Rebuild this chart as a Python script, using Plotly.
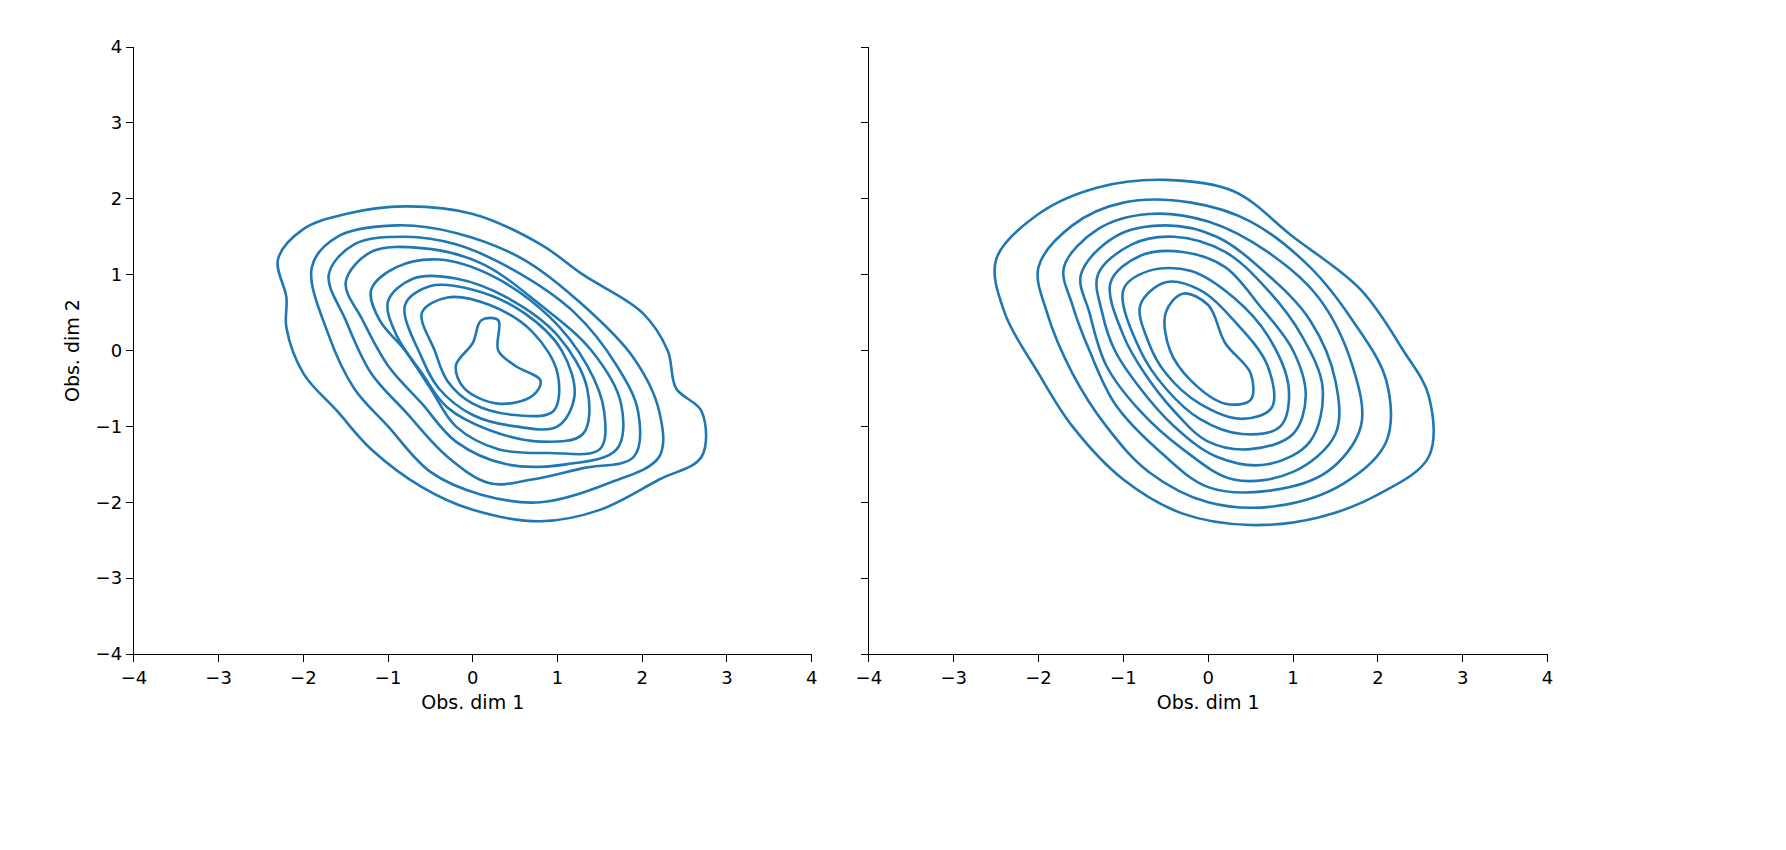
import plotly.graph_objects as go

left_contours = [
 [(-2.3,1.2),(-2.0,1.6),(-1.5,1.8),(-0.8,1.9),(0,1.8),(0.8,1.4),(1.3,1.0),(2.0,0.5),(2.3,0.0),(2.4,-0.5),(2.7,-0.8),(2.7,-1.4),(2.2,-1.7),(1.5,-2.1),(0.8,-2.25),(0,-2.1),(-0.6,-1.8),(-1.2,-1.3),(-1.6,-0.8),(-2.0,-0.3),(-2.2,0.3),(-2.2,0.7)],
 [(-1.9,1.1),(-1.6,1.5),(-0.9,1.65),(-0.2,1.55),(0.6,1.2),(1.3,0.6),(1.9,-0.1),(2.2,-0.8),(2.2,-1.4),(1.6,-1.75),(0.8,-2.0),(0.1,-1.9),(-0.5,-1.6),(-1.0,-1.0),(-1.4,-0.5),(-1.7,0.2)],
 [(-1.7,1.0),(-1.4,1.4),(-0.8,1.5),(-0.2,1.4),(0.5,1.05),(1.2,0.5),(1.7,-0.2),(1.95,-0.8),(1.9,-1.4),(1.3,-1.55),(0.7,-1.7),(0.2,-1.75),(-0.3,-1.4),(-0.8,-0.8),(-1.2,-0.3),(-1.5,0.4)],
 [(-1.5,0.9),(-1.2,1.3),(-0.6,1.35),(0.1,1.15),(0.8,0.6),(1.4,0.0),(1.75,-0.7),(1.7,-1.3),(1.1,-1.5),(0.4,-1.5),(-0.2,-1.2),(-0.6,-0.7),(-1.0,-0.2),(-1.3,0.4)],
 [(-1.2,0.8),(-0.9,1.1),(-0.4,1.2),(0.2,1.0),(0.9,0.45),(1.35,-0.2),(1.55,-0.8),(1.5,-1.3),(0.9,-1.35),(0.3,-1.3),(-0.2,-1.0),(-0.5,-0.5),(-0.8,0.0),(-1.1,0.4)],
 [(-1.0,0.65),(-0.7,0.95),(-0.2,0.95),(0.4,0.7),(1.0,0.2),(1.35,-0.5),(1.3,-1.1),(0.8,-1.2),(0.2,-1.05),(-0.3,-0.75),(-0.6,-0.3),(-0.9,0.2)],
 [(-0.8,0.6),(-0.5,0.85),(0.0,0.8),(0.6,0.5),(1.05,0.0),(1.2,-0.6),(1.0,-1.0),(0.5,-1.0),(0.0,-0.85),(-0.4,-0.5),(-0.6,-0.1)],
 [(-0.6,0.5),(-0.3,0.7),(0.2,0.6),(0.7,0.25),(1.0,-0.3),(0.95,-0.8),(0.5,-0.85),(0.0,-0.7),(-0.3,-0.4),(-0.45,0.0)],
 [(0.1,0.4),(0.3,0.4),(0.3,0.0),(0.5,-0.2),(0.8,-0.4),(0.7,-0.6),(0.3,-0.7),(-0.1,-0.5),(-0.2,-0.2),(0,0.1)],
]
right_contours = [
 [(-2.5,1.2),(-2.0,1.8),(-1.3,2.15),(-0.5,2.25),(0.3,2.1),(1.0,1.5),(1.8,0.8),(2.3,0.0),(2.6,-0.6),(2.6,-1.4),(2.0,-1.9),(1.3,-2.2),(0.5,-2.3),(-0.3,-2.15),(-1.0,-1.7),(-1.6,-1.0),(-2.0,-0.3),(-2.4,0.5)],
 [(-2.0,1.1),(-1.6,1.65),(-1.0,1.95),(-0.2,1.95),(0.5,1.7),(1.2,1.1),(1.7,0.4),(2.1,-0.4),(2.1,-1.2),(1.6,-1.75),(0.8,-2.05),(0,-2.0),(-0.7,-1.6),(-1.2,-1.0),(-1.6,-0.3),(-1.9,0.5)],
 [(-1.7,1.1),(-1.3,1.6),(-0.7,1.8),(0,1.7),(0.7,1.3),(1.3,0.7),(1.7,-0.2),(1.8,-1.0),(1.4,-1.6),(0.7,-1.85),(0,-1.8),(-0.6,-1.3),(-1.1,-0.7),(-1.4,0),(-1.6,0.6)],
 [(-1.5,1.0),(-1.1,1.5),(-0.5,1.65),(0.1,1.5),(0.7,1.0),(1.2,0.4),(1.5,-0.4),(1.5,-1.1),(1.0,-1.6),(0.3,-1.7),(-0.3,-1.3),(-0.8,-0.8),(-1.2,-0.2),(-1.4,0.5)],
 [(-1.3,1.0),(-0.9,1.4),(-0.4,1.5),(0.2,1.3),(0.7,0.8),(1.1,0.2),(1.35,-0.5),(1.2,-1.2),(0.7,-1.5),(0.1,-1.4),(-0.4,-1.0),(-0.8,-0.5),(-1.1,0),(-1.25,0.5)],
 [(-1.15,0.9),(-0.8,1.25),(-0.3,1.3),(0.2,1.1),(0.6,0.6),(1.0,0.0),(1.15,-0.6),(1.0,-1.1),(0.5,-1.3),(0,-1.2),(-0.4,-0.8),(-0.75,-0.3),(-1.0,0.2)],
 [(-1.0,0.8),(-0.7,1.05),(-0.2,1.05),(0.3,0.7),(0.7,0.2),(0.95,-0.5),(0.85,-1.0),(0.4,-1.1),(-0.1,-0.9),(-0.5,-0.5),(-0.8,0.0)],
 [(-0.8,0.6),(-0.5,0.9),(-0.1,0.8),(0.3,0.4),(0.7,-0.2),(0.75,-0.75),(0.4,-0.9),(-0.1,-0.7),(-0.5,-0.3),(-0.7,0.1)],
 [(-0.5,0.5),(-0.3,0.75),(0,0.6),(0.2,0.1),(0.5,-0.3),(0.5,-0.65),(0.2,-0.7),(-0.2,-0.4),(-0.45,0)],
]
tick_vals = [-4, -3, -2, -1, 0, 1, 2, 3, 4]
tick_text = ["\u22124", "\u22123", "\u22122", "\u22121", "0", "1", "2", "3", "4"]
COLOR = "#1f77b4"

fig = go.Figure()
for contours, xa, ya in [(left_contours, "x", "y"), (right_contours, "x2", "y2")]:
    for c in contours:
        pts = c + [c[0]]
        fig.add_trace(go.Scatter(x=[p[0] for p in pts], y=[p[1] for p in pts], mode="lines",
                                 line=dict(color=COLOR, width=2.6, shape="spline", smoothing=1.0),
                                 xaxis=xa, yaxis=ya, showlegend=False, hoverinfo="skip"))

ax = dict(range=[-4, 4], tickvals=tick_vals, ticktext=tick_text, showgrid=False, zeroline=False,
          showline=True, linecolor="black", linewidth=1.3, ticks="outside", ticklen=7,
          tickcolor="black", automargin=False,
          tickfont=dict(family="DejaVu Sans", size=18, color="black"))
tf = dict(family="DejaVu Sans", size=19, color="black")
fig.update_layout(
    width=1786, height=850, margin=dict(l=0, r=0, t=0, b=0, autoexpand=False),
    plot_bgcolor="white", paper_bgcolor="white",
    xaxis=dict(ax, domain=[0.0705, 0.450], anchor="y",
               title=dict(text="Obs. dim 1", font=tf, standoff=8)),
    yaxis=dict(ax, domain=[0.24, 0.954], anchor="x",
               title=dict(text="Obs. dim 2", font=tf, standoff=10)),
    xaxis2=dict(ax, domain=[0.482, 0.862], anchor="y2",
                title=dict(text="Obs. dim 1", font=tf, standoff=8)),
    yaxis2=dict(ax, domain=[0.24, 0.954], anchor="x2", showticklabels=False),
)
fig.write_html("out.html")
